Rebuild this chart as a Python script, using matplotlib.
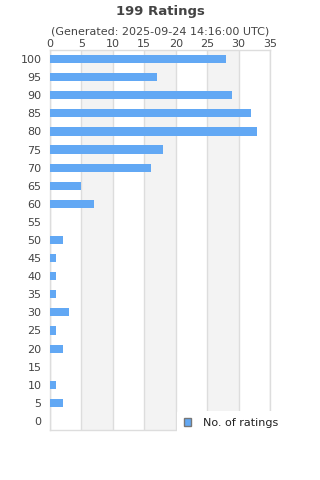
import matplotlib
matplotlib.use("Agg")
import matplotlib.pyplot as plt
from matplotlib.patches import Patch

categories = [0, 5, 10, 15, 20, 25, 30, 35, 40, 45, 50, 55, 60, 65, 70, 75, 80, 85, 90, 95, 100]
counts = [0, 2, 1, 0, 2, 1, 3, 1, 1, 1, 2, 0, 7, 5, 16, 18, 33, 32, 29, 17, 28]
x_ticks = [0, 5, 10, 15, 20, 25, 30, 35]
title = "199 Ratings"
subtitle = "(Generated: 2025-09-24 14:16:00 UTC)"
legend_label = "No. of ratings"

bar_color = "#62a8f4"
text_color = "#444444"
grid_color = "#dddddd"

fig = plt.figure(figsize=(3.2, 4.8), dpi=100)
ax = fig.add_axes([50/320, 1 - 430/480, 220/320, 380/480])

ypos = list(range(len(categories)))
ax.barh(ypos, counts, height=0.45, color=bar_color, zorder=3)

ax.set_xlim(0, 35)
ax.set_ylim(-0.5, len(categories) - 0.5)

# alternating bands
for i in range(len(x_ticks) - 1):
    if i % 2 == 1:
        ax.axvspan(x_ticks[i], x_ticks[i + 1], color="#f3f3f3", zorder=0, lw=0)
for xt in x_ticks:
    ax.axvline(xt, color=grid_color, lw=1, zorder=1)

ax.set_yticks(ypos)
ax.set_yticklabels([str(c) for c in categories])
ax.set_xticks(x_ticks)
ax.xaxis.tick_top()
ax.tick_params(axis="both", length=0, labelsize=8, colors=text_color)
ax.tick_params(axis="x", pad=1)
ax.tick_params(axis="y", pad=6)
for s in ax.spines.values():
    s.set_color(grid_color)
    s.set_linewidth(1)

fig.text(0.5, 1 - 11/480, title, ha="center", va="center", fontsize=9.5,
         fontweight="bold", color=text_color)
fig.text(0.5, 1 - 31/480, subtitle, ha="center", va="center", fontsize=8,
         color=text_color)

handle = Patch(facecolor=bar_color, edgecolor="#777777", linewidth=1)
leg = ax.legend([handle], [legend_label], loc="upper left",
                bbox_to_anchor=(177/320, 1 - 411/480), bbox_transform=fig.transFigure,
                frameon=True, fontsize=8, handlelength=0.7, handleheight=0.7,
                handletextpad=1.0, borderpad=0.6, borderaxespad=0)
leg.get_frame().set_facecolor("white")
leg.get_frame().set_edgecolor("none")
leg.get_frame().set_alpha(1)
leg.set_zorder(10)
for t in leg.get_texts():
    t.set_color("#222222")

fig.savefig("out.png", dpi=100)
